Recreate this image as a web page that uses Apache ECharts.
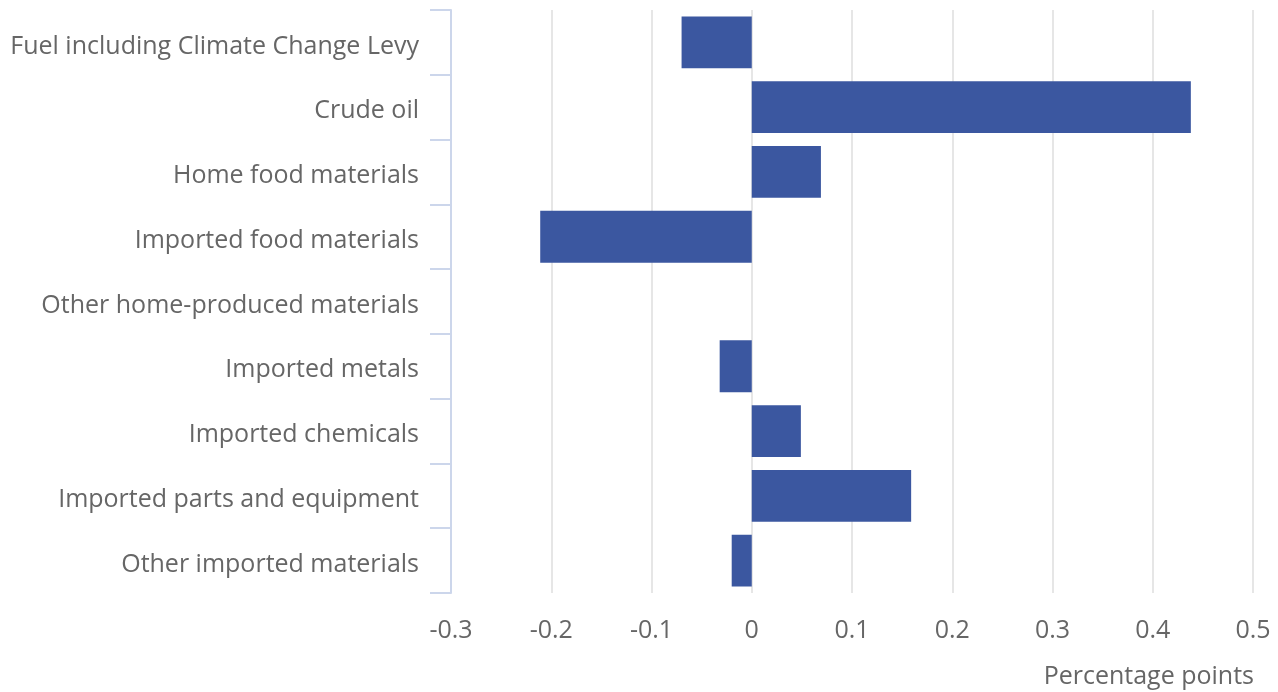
<!DOCTYPE html>
<html>
<head>
<meta charset="utf-8">
<script src="https://cdn.jsdelivr.net/npm/echarts@6/dist/echarts.min.js"></script>
<style>html,body{margin:0;padding:0;background:#fff;}#c{width:1278px;height:692px;}</style>
</head>
<body>
<div id="c"></div>
<script>
const categories = [
  "Fuel including Climate Change Levy",
  "Crude oil",
  "Home food materials",
  "Imported food materials",
  "Other home-produced materials",
  "Imported metals",
  "Imported chemicals",
  "Imported parts and equipment",
  "Other imported materials"
];
const values = [-0.07, 0.438, 0.069, -0.211, 0, -0.032, 0.049, 0.159, -0.02];
const axisName = "Percentage points";

const chart = echarts.init(document.getElementById('c'), null, {renderer: 'canvas'});
const font = "'Open Sans', sans-serif";
chart.setOption({
  animation: false,
  textStyle: {fontFamily: font},
  title: {
    text: axisName, right: 19, top: 659,
    textStyle: {fontFamily: font, fontSize: 25, fontWeight: 'normal', color: '#666666'}
  },
  grid: {left: 451, right: 25, top: 10, bottom: 99, containLabel: false},
  xAxis: {
    type: 'value', min: -0.3, max: 0.5, interval: 0.1,
    axisLine: {show: false}, axisTick: {show: false},
    splitLine: {show: true, lineStyle: {color: '#e6e6e6', width: 2}},
    axisLabel: {fontFamily: font, fontSize: 25, color: '#666666', margin: 25,
      formatter: v => { const r = Math.round(v * 10) / 10; return r === 0 ? '0' : String(r); }}
  },
  yAxis: {
    type: 'category', data: categories, inverse: true,
    axisLine: {show: true, onZero: false, lineStyle: {color: '#ccd6eb', width: 2}},
    axisTick: {show: true, length: 21, lineStyle: {color: '#ccd6eb', width: 2}},
    splitLine: {show: false},
    axisLabel: {margin: 32, formatter: v => '{a|' + v + '}',
      rich: {a: {fontFamily: font, fontSize: 25, color: '#666666', padding: [8, 0, 0, 0]}}}
  },
  series: [{
    type: 'bar', data: values, barCategoryGap: '20%',
    itemStyle: {color: '#3b57a0'}
  }]
});
</script>
</body>
</html>
